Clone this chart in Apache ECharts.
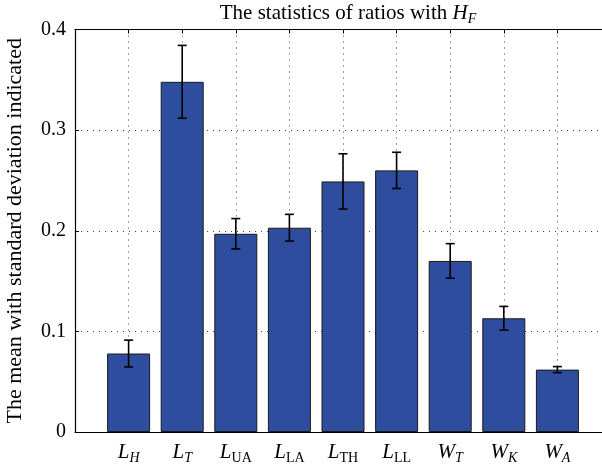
<!DOCTYPE html>
<html>
<head>
<meta charset="utf-8">
<script src="https://cdn.jsdelivr.net/npm/echarts@6/dist/echarts.min.js"></script>
<style>
html, body { margin: 0; padding: 0; background: #fff; }
#main { width: 602px; height: 466px; }
</style>
</head>
<body>
<div id="main"></div>
<script>
// category label parts: main letter, subscript, subscript italic?
var catMain = ['L', 'L', 'L', 'L', 'L', 'L', 'W', 'W', 'W'];
var catSub = ['H', 'T', 'UA', 'LA', 'TH', 'LL', 'T', 'K', 'A'];
var subItalic = [true, true, false, false, false, false, true, true, true];

var means = [0.078, 0.348, 0.197, 0.203, 0.249, 0.260, 0.170, 0.113, 0.062];
var stds = [0.0133, 0.0362, 0.0151, 0.0133, 0.0275, 0.0180, 0.0172, 0.0118, 0.003];

var yTicks = [0, 0.1, 0.2, 0.3, 0.4];

var serif = 'Liberation Serif';

var barData = [];
var errData = [];
for (var i = 0; i < means.length; i++) {
    barData.push([i + 1, means[i]]);
    errData.push([i + 1, means[i] - stds[i], means[i] + stds[i]]);
}

var myChart = echarts.init(document.getElementById('main'));

var option = {
    animation: false,
    title: {
        text: '{t|The statistics of ratios with }{m|H}{s|F}',
        left: 343,
        textAlign: 'center',
        top: -4,
        textStyle: {
            rich: {
                t: { fontFamily: serif, fontSize: 21, fontWeight: 'normal', color: '#000' },
                m: { fontFamily: serif, fontSize: 21, fontWeight: 'normal', fontStyle: 'italic', color: '#000' },
                s: { fontFamily: serif, fontSize: 14, fontWeight: 'normal', fontStyle: 'italic', color: '#000', padding: [11, 0, 0, 0] }
            }
        }
    },
    grid: {
        left: 75,
        top: 29.5,
        right: -9,
        bottom: 34,
        outerBoundsMode: 'none'
    },
    xAxis: [{
        type: 'value',
        min: 0,
        max: 10,
        interval: 1,
        position: 'bottom',
        axisLine: { lineStyle: { color: '#000', width: 1.2 } },
        axisTick: { inside: true, length: 4, lineStyle: { color: '#000' } },
        splitLine: {
            show: true,
            lineStyle: { color: '#444', type: [1, 5], width: 1 }
        },
        axisLabel: {
            margin: 8,
            formatter: function (v) {
                var k = v - 1;
                if (k < 0 || k >= catMain.length) return '';
                return '{m|' + catMain[k] + '}' + (subItalic[k] ? '{si|' : '{sr|') + catSub[k] + '}';
            },
            rich: {
                m: { fontFamily: serif, fontSize: 21, fontStyle: 'italic', color: '#000' },
                si: { fontFamily: serif, fontSize: 14, fontStyle: 'italic', color: '#000', padding: [11, 0, 0, 0] },
                sr: { fontFamily: serif, fontSize: 14, color: '#000', padding: [11, 0, 0, 0] }
            }
        }
    }, {
        type: 'value',
        min: 0,
        max: 10,
        interval: 1,
        position: 'top',
        axisLine: { lineStyle: { color: '#000', width: 1.2 } },
        axisTick: { inside: true, length: 4, lineStyle: { color: '#000' } },
        splitLine: { show: false },
        axisLabel: { show: false }
    }],
    yAxis: {
        type: 'value',
        min: 0,
        max: 0.4,
        interval: 0.1,
        name: 'The mean with standard deviation indicated',
        nameLocation: 'middle',
        nameGap: 49,
        nameTextStyle: { fontFamily: serif, fontSize: 22, color: '#000' },
        axisLine: { show: true, lineStyle: { color: '#000', width: 1.2 } },
        axisTick: { show: true, inside: true, length: 4, lineStyle: { color: '#000' } },
        splitLine: {
            show: true,
            lineStyle: { color: '#444', type: [1, 5], width: 1 }
        },
        axisLabel: {
            margin: 9,
            fontFamily: serif,
            fontSize: 20,
            color: '#000',
            formatter: function (v) {
                for (var j = 0; j < yTicks.length; j++) {
                    if (Math.abs(v - yTicks[j]) < 1e-9) return String(yTicks[j]);
                }
                return '';
            }
        }
    },
    series: [{
        type: 'bar',
        xAxisIndex: 0,
        data: barData,
        barWidth: 43,
        itemStyle: {
            color: '#2f4d9f',
            borderColor: '#1a1a1a',
            borderWidth: 1
        },
        z: 2
    }, {
        type: 'custom',
        xAxisIndex: 0,
        data: errData,
        z: 5,
        renderItem: function (params, api) {
            var x = api.value(0);
            var lo = api.coord([x, api.value(1)]);
            var hi = api.coord([x, api.value(2)]);
            var hw = 4.5;
            var st = { stroke: '#000', lineWidth: 1.6 };
            return {
                type: 'group',
                children: [
                    { type: 'line', shape: { x1: lo[0], y1: lo[1], x2: hi[0], y2: hi[1] }, style: st },
                    { type: 'line', shape: { x1: hi[0] - hw, y1: hi[1], x2: hi[0] + hw, y2: hi[1] }, style: st },
                    { type: 'line', shape: { x1: lo[0] - hw, y1: lo[1], x2: lo[0] + hw, y2: lo[1] }, style: st }
                ]
            };
        }
    }]
};

myChart.setOption(option);
</script>
</body>
</html>
